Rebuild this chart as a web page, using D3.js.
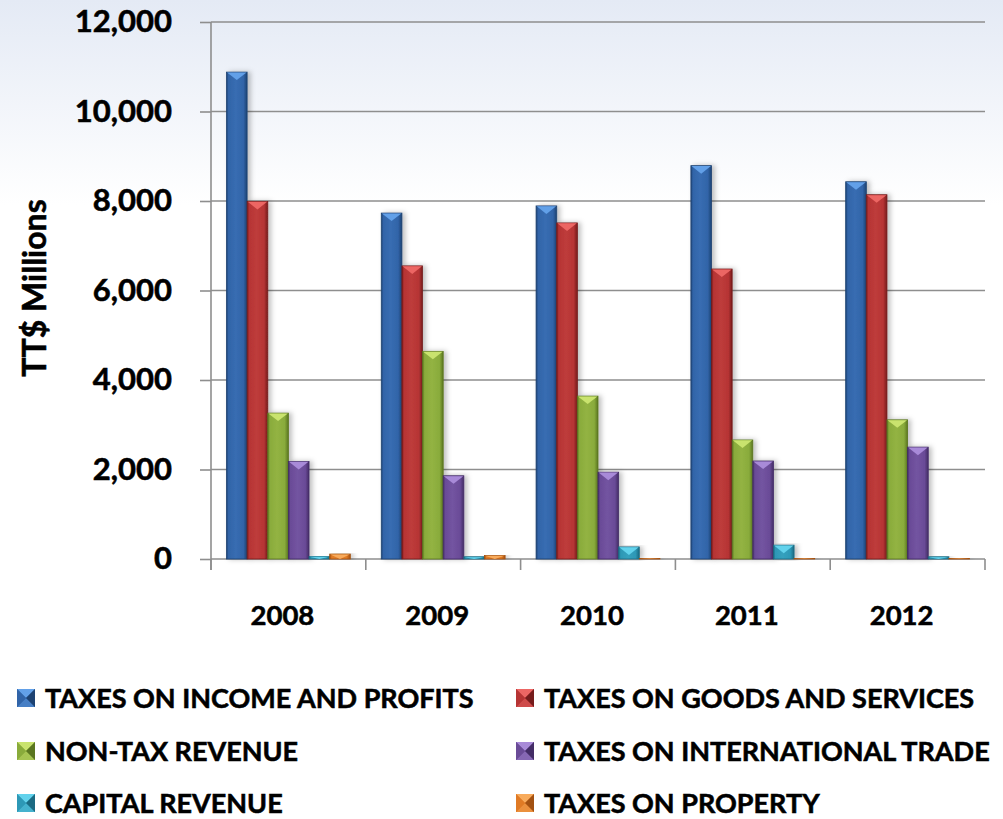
<!DOCTYPE html>
<html><head><meta charset="utf-8">
<script src="https://cdn.jsdelivr.net/npm/d3@7"></script>
<style>
body{margin:0;background:#fff}
svg{display:block}
text{font-family:Lato,'Open Sans',sans-serif;font-weight:700;fill:#000;stroke:#000;stroke-width:0.55px;paint-order:stroke}
</style>
</head><body>
<svg id="chart" width="1003" height="819"></svg>
<script>
// ---- data ----
const years = ["2008", "2009", "2010", "2011", "2012"];
const seriesNames = [
  "TAXES ON INCOME AND PROFITS",
  "TAXES ON GOODS AND SERVICES",
  "NON-TAX REVENUE",
  "TAXES ON INTERNATIONAL TRADE",
  "CAPITAL REVENUE",
  "TAXES ON PROPERTY"
];
const incomeProfits      = [10880, 7730, 7890, 8790, 8430];
const goodsServices      = [7990, 6550, 7510, 6480, 8140];
const nonTaxRevenue      = [3260, 4640, 3640, 2660, 3110];
const internationalTrade = [2180, 1860, 1940, 2190, 2500];
const capitalRevenue     = [60, 50, 270, 310, 50];
const propertyTaxes      = [110, 80, 20, 20, 20];
const yTickValues = [0, 2000, 4000, 6000, 8000, 10000, 12000];
const yTitle = "TT$ Millions";

const seriesValues = [incomeProfits, goodsServices, nonTaxRevenue, internationalTrade, capitalRevenue, propertyTaxes];

// ---- palette (base, light, dark) ----
const palette = [
  {base:"#3164a8", light:"#62a0e8", dark:"#1d4272"},
  {base:"#b63434", light:"#ec6664", dark:"#761c1c"},
  {base:"#89ab3b", light:"#c9e36e", dark:"#5a7620"},
  {base:"#6a4b97", light:"#a88ad8", dark:"#432c66"},
  {base:"#2d98b6", light:"#62d2ec", dark:"#1b6a82"},
  {base:"#e07a24", light:"#f8ab5c", dark:"#a25112"}
];

(function(){
const W = 1003, H = 819;
const svg = d3.select("#chart");
const defs = svg.append("defs");

const bg = defs.append("linearGradient").attr("id","bg").attr("x1",0).attr("y1",0).attr("x2",0).attr("y2",1);
bg.append("stop").attr("offset","0%").attr("stop-color","#e4eaf5");
bg.append("stop").attr("offset","25%").attr("stop-color","#ffffff");
bg.append("stop").attr("offset","100%").attr("stop-color","#ffffff");
svg.append("rect").attr("width",W).attr("height",H).attr("fill","url(#bg)");

const f = defs.append("filter").attr("id","shadow").attr("x","-50%").attr("y","-10%").attr("width","200%").attr("height","120%");
f.append("feDropShadow").attr("dx",3).attr("dy",0).attr("stdDeviation",2.5)
  .attr("flood-color","#000").attr("flood-opacity",0.25);

palette.forEach((p,i)=>{
  const g = defs.append("linearGradient").attr("id","bar"+i).attr("x1",0).attr("y1",0).attr("x2",1).attr("y2",0);
  g.append("stop").attr("offset","0%").attr("stop-color",p.dark);
  g.append("stop").attr("offset","10%").attr("stop-color",p.base);
  g.append("stop").attr("offset","45%").attr("stop-color",d3.interpolateRgb(p.base,p.light)(0.15));
  g.append("stop").attr("offset","82%").attr("stop-color",p.base);
  g.append("stop").attr("offset","100%").attr("stop-color",p.dark);
});

const pLeft = 211, pRight = 985, pTop = 22, pBottom = 559;
const x0 = d3.scaleBand().domain(years).range([pLeft, pRight]).padding(0);
const x1 = d3.scaleBand().domain(d3.range(seriesNames.length)).range([0, x0.bandwidth()])
  .paddingInner(0).paddingOuter(0.75);
const y = d3.scaleLinear().domain([0, 12000]).range([pBottom, pTop]);

svg.append("g").selectAll("line").data(yTickValues.filter(v=>v>0)).join("line")
  .attr("x1",pLeft).attr("x2",pRight)
  .attr("y1",d=>y(d)).attr("y2",d=>y(d))
  .attr("stroke","#8e8e8e").attr("stroke-width",1.6);

const yAxis = d3.axisLeft(y).tickValues(yTickValues).tickSize(11).tickPadding(28)
  .tickFormat(d3.format(","));
const yg = svg.append("g").attr("transform",`translate(${pLeft},0)`).call(yAxis);
yg.select(".domain").attr("stroke","#8e8e8e").attr("stroke-width",1.6)
  .attr("d",`M0,${pTop}V${pBottom+11}`);
yg.selectAll(".tick line").attr("stroke","#8e8e8e").attr("stroke-width",1.6);
yg.selectAll(".tick text").style("font-size","31px").style("font-family","Lato, sans-serif")
  .style("font-weight","700").attr("fill","#000");

const xAxis = d3.axisBottom(x0).tickSize(0).tickPadding(46);
const xg = svg.append("g").attr("transform",`translate(0,${pBottom})`).call(xAxis);
xg.select(".domain").attr("stroke","#8e8e8e").attr("stroke-width",1.6).attr("d",`M${pLeft},0H${pRight}`);
xg.selectAll(".tick text").style("font-size","27.5px").style("font-family","Lato, sans-serif")
  .style("font-weight","700").attr("fill","#000").attr("dx",-6);
const boundaries = years.map(d=>x0(d)).concat([x0(years[years.length-1]) + x0.bandwidth()]);
xg.append("g").selectAll("line").data(boundaries).join("line")
  .attr("x1",d=>d).attr("x2",d=>d).attr("y1",0).attr("y2",11)
  .attr("stroke","#8e8e8e").attr("stroke-width",1.6);

svg.append("text").text(yTitle)
  .attr("transform",`translate(46,288) rotate(-90)`)
  .attr("text-anchor","middle").style("font-size","32px");

const bw = x1.bandwidth();
const groups = svg.append("g").selectAll("g.year").data(years).join("g")
  .attr("class","year").attr("transform",d=>`translate(${x0(d)},0)`);

seriesValues.forEach((vals, si)=>{
  const p = palette[si];
  const bars = groups.append("g").attr("filter","url(#shadow)");
  bars.each(function(yr, yi){
    const v = vals[yi];
    const g = d3.select(this);
    const bx = x1(si), by = y(v), bh = y(0) - y(v);
    g.append("rect").attr("x",bx).attr("y",by).attr("width",bw).attr("height",bh)
      .attr("fill",`url(#bar${si})`).attr("stroke",p.dark).attr("stroke-width",0.8);
    const depth = Math.min(8, bh);
    g.append("path")
      .attr("d",`M${bx+0.6},${by+0.4}L${bx+bw-0.6},${by+0.4}L${bx+bw/2},${by+depth}Z`)
      .attr("fill",p.light);
  });
});

const legendCols = [17, 516];
const legendRows = [689, 742, 794];
const ms = 18;
const legend = svg.append("g").selectAll("g").data(seriesNames).join("g")
  .attr("transform",(d,i)=>`translate(${legendCols[i%2]},${legendRows[Math.floor(i/2)]})`);
legend.each(function(name, i){
  const p = palette[i];
  const g = d3.select(this);
  const c = ms/2;
  g.append("rect").attr("width",ms).attr("height",ms).attr("fill",p.base);
  g.append("path").attr("d",`M0,0L${ms},0L${c},${c}Z`).attr("fill",p.light);
  g.append("path").attr("d",`M0,${ms}L${ms},${ms}L${c},${c}Z`).attr("fill",d3.interpolateRgb(p.base,p.light)(0.45));
  g.append("path").attr("d",`M0,0L${c},${c}L0,${ms}Z`).attr("fill",p.base);
  g.append("path").attr("d",`M${ms},0L${c},${c}L${ms},${ms}Z`).attr("fill",p.dark);
  g.append("text").text(name).attr("x",28).attr("y",ms+1)
    .style("font-size","27px");
});
})();
</script>
</body></html>
